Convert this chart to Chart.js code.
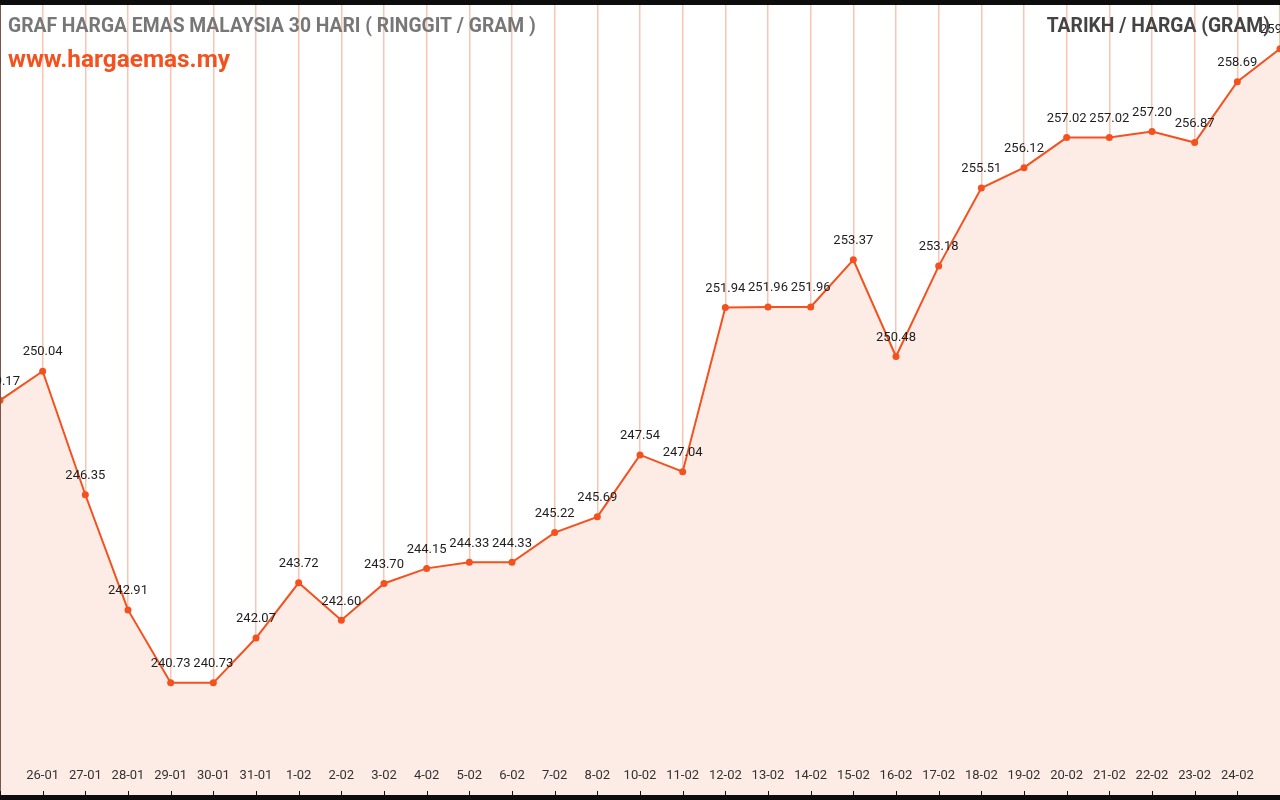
<!DOCTYPE html>
<html>
<head>
<meta charset="utf-8">
<script src="https://cdn.jsdelivr.net/npm/chart.js@4.4.0/dist/chart.umd.min.js"></script>
<style>
  html, body { margin: 0; padding: 0; background: #0d0d0d; }
  #wrap { position: absolute; left: 0; top: 5px; width: 1280px; height: 790px; background: #fff; }
</style>
</head>
<body>
<div id="wrap"><canvas id="chartEmas"></canvas></div>
<script>
// Harga emas 30 hari (RM / gram)
const tarikh = ['25-01', '26-01', '27-01', '28-01', '29-01', '30-01', '31-01', '1-02', '2-02', '3-02',
    '4-02', '5-02', '6-02', '7-02', '8-02', '10-02', '11-02', '12-02', '13-02', '14-02',
    '15-02', '16-02', '17-02', '18-02', '19-02', '20-02', '21-02', '22-02', '23-02', '24-02', '25-02'];
const harga = [249.17, 250.04, 246.35, 242.91, 240.73, 240.73, 242.07, 243.72, 242.60, 243.70,
    244.15, 244.33, 244.33, 245.22, 245.69, 247.54, 247.04, 251.94, 251.96, 251.96,
    253.37, 250.48, 253.18, 255.51, 256.12, 257.02, 257.02, 257.20, 256.87, 258.69, 259.67];
const yMin = 237.38;
const yMax = 260.98;

const tajuk = 'GRAF HARGA EMAS MALAYSIA 30 HARI ( RINGGIT / GRAM )';
const laman = 'www.hargaemas.my';
const tajukKanan = 'TARIKH / HARGA (GRAM)';

const oren = '#f4511e';

// ── labels, dates and header text ──
const labelPlugin = {
    id: 'labelEmas',
    afterDatasetsDraw(chart) {
        const ctx = chart.ctx;
        const area = chart.chartArea;
        const pts = chart.getDatasetMeta(0).data;
        ctx.save();

        // left border
        ctx.strokeStyle = '#7a5548';
        ctx.lineWidth = 1;
        ctx.beginPath();
        ctx.moveTo(area.left + 0.5, area.top);
        ctx.lineTo(area.left + 0.5, area.bottom);
        ctx.stroke();

        // value labels
        ctx.font = '13px Roboto';
        ctx.fillStyle = '#1e1e1e';
        ctx.textAlign = 'center';
        ctx.textBaseline = 'middle';
        pts.forEach((p, i) => {
            ctx.fillText(harga[i].toFixed(2), p.x, p.y - 19);
        });

        // date labels inside the plot + small ticks
        ctx.fillStyle = '#333';
        pts.forEach((p, i) => {
            if (i === 0 || i === pts.length - 1) return;
            ctx.fillText(tarikh[i], p.x, area.bottom - 19);
        });
        ctx.strokeStyle = '#111';
        pts.forEach(p => {
            ctx.beginPath();
            ctx.moveTo(Math.round(p.x) + 0.5, area.bottom - 4);
            ctx.lineTo(Math.round(p.x) + 0.5, area.bottom);
            ctx.stroke();
        });

        // header
        ctx.textAlign = 'left';
        ctx.font = 'bold 19.3px Roboto';
        ctx.fillStyle = '#777';
        ctx.fillText(tajuk, 8, 22);
        ctx.font = 'bold 24.4px Roboto';
        ctx.fillStyle = oren;
        ctx.fillText(laman, 8, 56);
        ctx.textAlign = 'right';
        ctx.font = 'bold 19.3px Roboto';
        ctx.fillStyle = '#444';
        ctx.fillText(tajukKanan, 1270, 22);
        ctx.restore();
    }
};

new Chart(document.getElementById('chartEmas'), {
    type: 'line',
    data: {
        labels: tarikh,
        datasets: [{
            data: harga,
            borderColor: oren,
            borderWidth: 2,
            backgroundColor: '#fdece6',
            fill: 'start',
            tension: 0,
            pointRadius: 3.5,
            pointBackgroundColor: oren,
            pointBorderWidth: 0,
        }]
    },
    options: {
        responsive: true,
        maintainAspectRatio: false,
        animation: false,
        layout: { padding: 0, autoPadding: false },
        plugins: { legend: { display: false }, tooltip: { enabled: false } },
        scales: {
            x: {
                offset: false,
                ticks: { display: false },
                grid: { color: '#f9c4b1', lineWidth: 1.5, drawTicks: false },
                border: { display: false }
            },
            y: { display: false, min: yMin, max: yMax }
        }
    },
    plugins: [labelPlugin]
});
</script>
</body>
</html>
